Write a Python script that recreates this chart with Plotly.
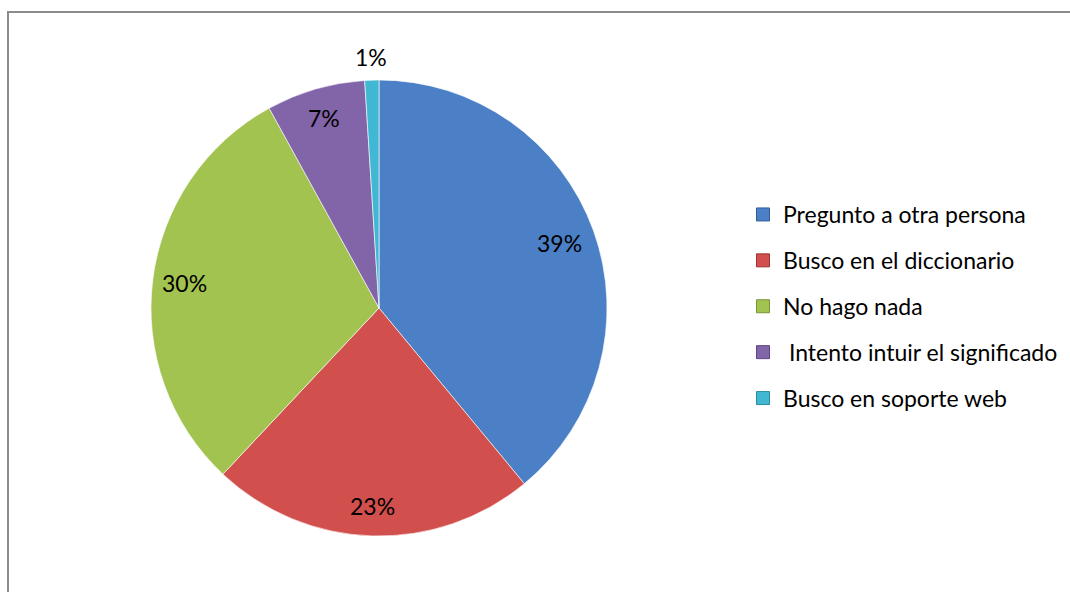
import math
import plotly.graph_objects as go

# Survey answers and their share of responses (%)
categories = [
    "Pregunto a otra persona",
    "Busco en el diccionario",
    "No hago nada",
    "\u00a0Intento intuir el significado",
    "Busco en soporte web",
]
shares = [39, 23, 30, 7, 1]
colors = ["#4b7fc6", "#d14f4c", "#a2c34f", "#8264a8", "#41b8d3"]
edge_colors = ["#2f5d99", "#9c3432", "#79933a", "#5d4680", "#2d8aa0"]
# radial placement of each percentage label, as a fraction of the radius
label_radius = [0.84, 0.87, 0.86, 0.87, 1.1]

W, H = 1070, 592
FONT = "Lato"

# pie geometry in pixels
CX, CY, R = 379, 308, 228

fig = go.Figure()

fig.add_trace(go.Pie(
    labels=categories,
    values=shares,
    sort=False,
    direction="clockwise",
    rotation=0,
    marker=dict(colors=colors, line=dict(color="rgba(255,255,255,0.6)", width=1)),
    textinfo="none",
    showlegend=False,
    hoverinfo="label+percent",
    domain=dict(x=[(CX - R) / W, (CX + R) / W], y=[1 - (CY + R) / H, 1 - (CY - R) / H]),
))

# percentage labels at the middle angle of each slice
total = sum(shares)
cum = 0
for v, rf in zip(shares, label_radius):
    mid = (cum + v / 2) / total * 2 * math.pi  # clockwise from 12 o'clock
    cum += v
    px = CX + rf * R * math.sin(mid)
    py = CY - rf * R * math.cos(mid)
    fig.add_annotation(
        x=px / W, y=1 - py / H, xref="paper", yref="paper",
        text=f"{v}%", showarrow=False,
        xanchor="center", yanchor="middle",
        font=dict(family=FONT, size=23, color="#000000"),
    )

# Legend entries, one per category
for i, (name, col, edge) in enumerate(zip(categories, colors, edge_colors)):
    fig.add_trace(go.Scatter(
        x=[None], y=[None], mode="markers", name=name,
        legendgroup=f"g{i}",
        marker=dict(symbol="square", size=13, color=col, line=dict(color=edge, width=1)),
    ))

fig.update_layout(
    width=W, height=H,
    margin=dict(l=0, r=0, t=0, b=0),
    paper_bgcolor="white",
    plot_bgcolor="white",
    font=dict(family=FONT, size=23, color="#000000"),
    xaxis=dict(visible=False),
    yaxis=dict(visible=False),
    legend=dict(
        x=743 / W, xanchor="left",
        y=1 - 306.5 / H, yanchor="middle",
        tracegroupgap=13,
        font=dict(family=FONT, size=23, color="#000000"),
        bgcolor="rgba(0,0,0,0)",
    ),
    shapes=[dict(
        type="rect", xref="paper", yref="paper",
        x0=8 / W, x1=1.02, y0=-0.02, y1=1 - 12 / H,
        line=dict(color="#8c8c8c", width=2),
        fillcolor="rgba(0,0,0,0)",
    )],
)

fig.write_html("out.html")
